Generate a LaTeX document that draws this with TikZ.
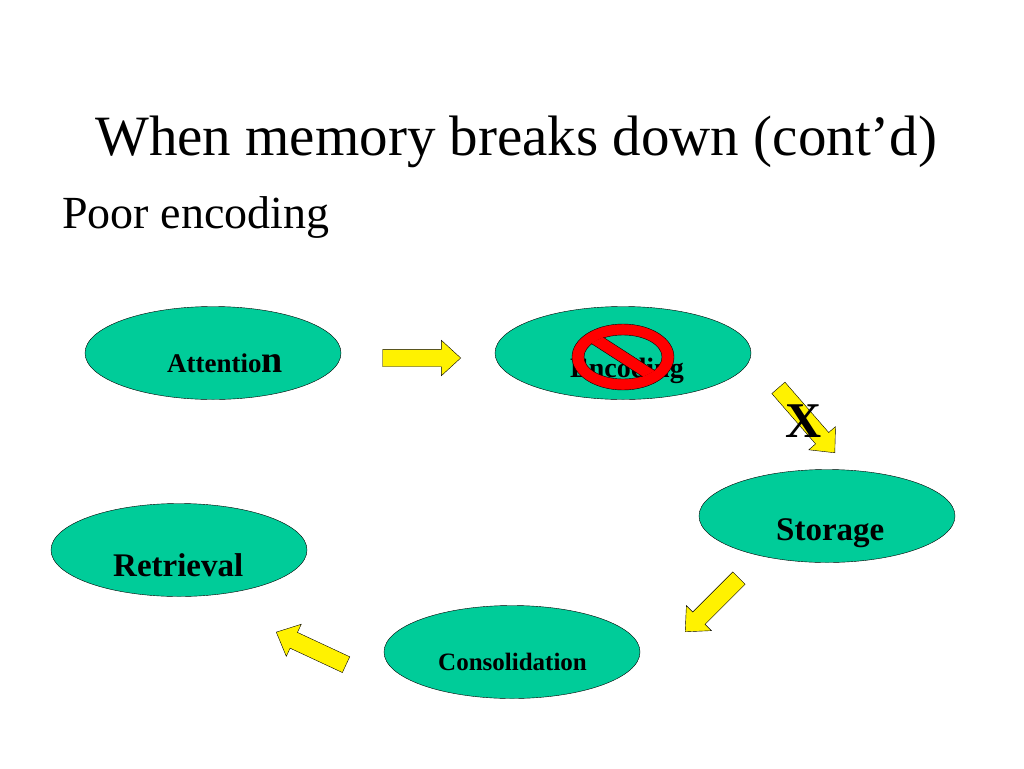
\documentclass[tikz,border=0pt]{standalone}
\usepackage{fontspec}
\setmainfont{Liberation Serif}
\usetikzlibrary{shapes.geometric,shapes.arrows}
\definecolor{stagegreen}{RGB}{0,204,153}
\definecolor{signred}{RGB}{255,0,0}
\tikzset{
  stage/.style={ellipse,draw=black,fill=stagegreen,minimum width=256pt,minimum height=93pt,inner sep=0pt},
  stagetext/.style={font=\bfseries\fontsize{#1}{#1}\selectfont,anchor=base west,inner sep=0pt},
  yarrow/.style={single arrow,draw=black,fill=yellow,inner xsep=0pt,inner ysep=8.5pt,
    single arrow head extend=9pt,single arrow tip angle=85,anchor=tip}
}
\begin{document}
\begin{tikzpicture}[x=1pt,y=-1pt]
    \useasboundingbox[fill=white] (0,0) rectangle (1024,768);
    \node[anchor=base west,inner sep=0pt,font=\fontsize{57}{60}\selectfont] (title) at (95,155) {When memory breaks down (cont’d)};
    \node[anchor=base west,inner sep=0pt,font=\fontsize{46}{50}\selectfont] (poor) at (62,228) {Poor encoding};
    % the five stages
    \foreach \name/\pos in {att/{(213,353)},enc/{(623,353)},sto/{(827,516)},ret/{(179,550)},con/{(512,652)}}
    \node[stage] (\name) at \pos {};
    \node[stagetext=27] (atttext) at (167,372) {Attentio{\fontsize{38}{38}\selectfont n}};
    \node[stagetext=28] (enctext) at (570,377) {Encoding};
    \node[stagetext=33] (stotext) at (776,540) {Storage};
    \node[stagetext=33] (rettext) at (113,576) {Retrieval};
    \node[stagetext=25] (context) at (438,670) {Consolidation};
    % no-entry sign over encoding
    \begin{scope}[shift={(623,357)},x=1pt,y=1pt]
    \fill[signred,draw=black,even odd rule] (0,0) ellipse [x radius=51pt,y radius=33pt]
      (0,0) ellipse [x radius=39pt,y radius=22pt];
    \begin{scope}
    \clip (0,0) ellipse [x radius=39.5pt,y radius=22.5pt];
    \filldraw[fill=signred,draw=black] (-30.7,26.8) -- (-41.5,19.8) -- (30.7,-26.8) -- (41.5,-19.8) -- cycle;
    \end{scope}
    \end{scope}
    % block arrows
    \foreach \name/\tip/\ang/\len in {a1/{(461,358)}/0/78,a2/{(835,453)}/-49/86,a3/{(685,632)}/225/76,a4/{(276,632)}/155/77}
    \node[yarrow,rotate=\ang,minimum height=\len pt] (\name) at \tip {};
    \node[anchor=base,inner sep=0pt,font=\bfseries\fontsize{50}{50}\selectfont] (cross) at (804,437) {X};
  \end{tikzpicture}
\end{document}
